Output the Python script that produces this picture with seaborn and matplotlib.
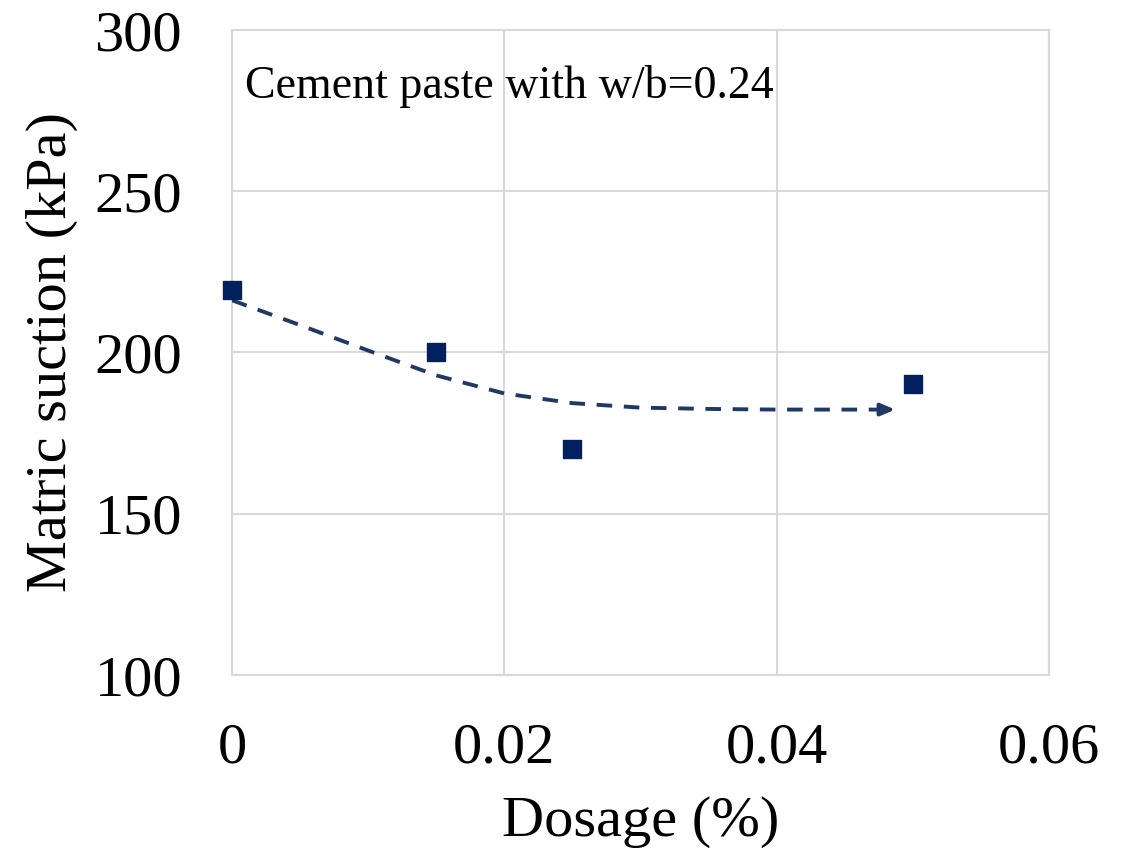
import matplotlib
matplotlib.use("Agg")
import matplotlib.pyplot as plt
import seaborn as sns
import pandas as pd

# Data
dosage = [0.0, 0.015, 0.025, 0.05]
suction = [219.3, 200.0, 170.0, 190.3]

trend_x = [0.0, 0.005, 0.01, 0.015, 0.02, 0.025, 0.03, 0.035, 0.04, 0.0475]
trend_y = [216.2, 208.5, 200.6, 192.9, 187.3, 184.3, 182.9, 182.5, 182.3, 182.3]
arrow_tip = (0.0487, 182.3)

x_ticks = [0, 0.02, 0.04, 0.06]
x_tick_labels = ["0", "0.02", "0.04", "0.06"]
y_ticks = [100, 150, 200, 250, 300]

annotation = "Cement paste with w/b=0.24"

sns.set_theme(style="white")
plt.rcParams['font.family'] = ['Liberation Serif', 'DejaVu Serif']
plt.rcParams['text.color'] = 'black'
plt.rcParams['axes.labelcolor'] = 'black'
plt.rcParams['xtick.color'] = 'black'
plt.rcParams['ytick.color'] = 'black'

navy = "#002060"
line_c = "#1f3864"
grid_c = "#d9d9d9"

fig, ax = plt.subplots(figsize=(11.22, 8.55), dpi=100)
fig.subplots_adjust(left=232/1122, right=1049/1122, top=1-30/855, bottom=1-675/855)

pts = pd.DataFrame({"x": dosage, "y": suction})
trend = pd.DataFrame({"x": trend_x, "y": trend_y})

sns.lineplot(data=trend, x="x", y="y", ax=ax, color=line_c, lw=2.8,
             linestyle=(0, (4.0, 3.0)), zorder=3)
ax.annotate("", xy=arrow_tip, xytext=(trend_x[-1], trend_y[-1]),
            arrowprops=dict(arrowstyle="-|>,head_length=0.7,head_width=0.3",
                            color=line_c, lw=2.8, shrinkA=0, shrinkB=0),
            zorder=3)
sns.scatterplot(data=pts, x="x", y="y", ax=ax, marker="s", s=150, color=navy,
                edgecolor=navy, zorder=4, clip_on=False)

ax.set_xlim(0, 0.06)
ax.set_ylim(100, 300)
ax.set_xticks(x_ticks)
ax.set_xticklabels(x_tick_labels)
ax.set_yticks(y_ticks)
ax.grid(True, color=grid_c, lw=1.5)
ax.set_axisbelow(True)
for s in ax.spines.values():
    s.set_color(grid_c)
    s.set_linewidth(1.5)
ax.tick_params(axis="x", length=0, pad=34, labelsize=42, labelcolor="black")
ax.tick_params(axis="y", length=0, pad=36, labelsize=42, labelcolor="black")

ax.set_xlabel("Dosage (%)", fontsize=42, labelpad=16, color="black")
ax.set_ylabel("Matric suction (kPa)", fontsize=42, labelpad=12, color="black")

ax.text(0.016, 0.945, annotation, transform=ax.transAxes, fontsize=33,
        ha="left", va="top", color="black")

fig.savefig("out.png", dpi=100)
